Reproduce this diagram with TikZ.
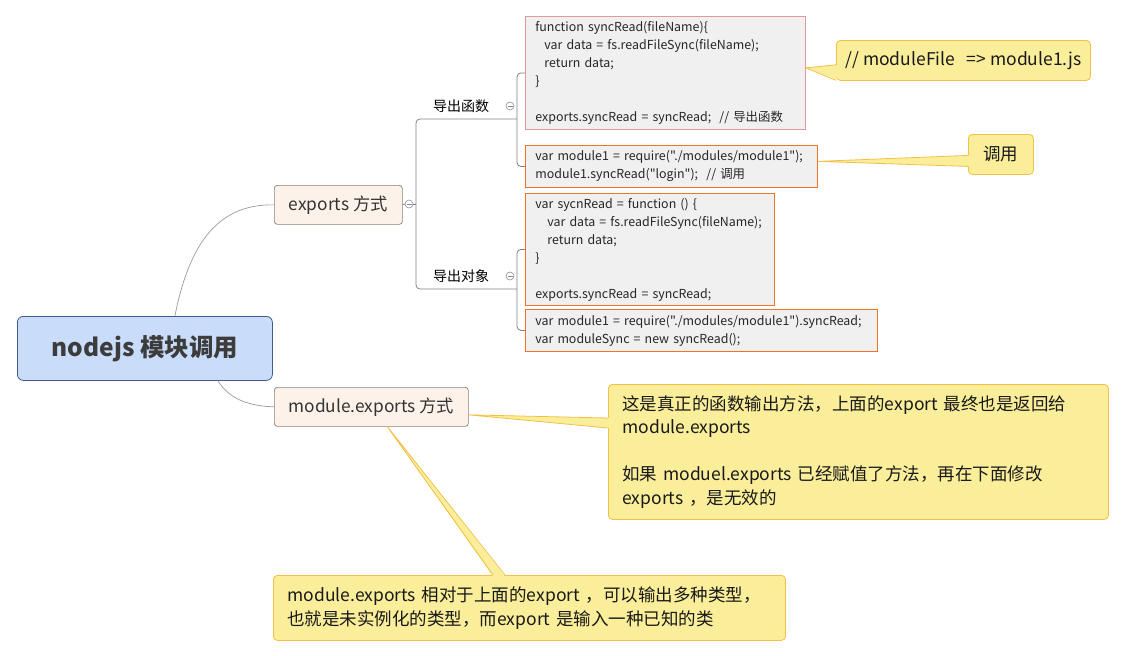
\documentclass[tikz,border=0pt]{standalone}
\usepackage{fontspec}
\setmainfont{Noto Sans CJK SC}[Ligatures=TeXOff]
\usepackage{xcolor}
\usetikzlibrary{positioning}
\definecolor{rootfill}{HTML}{C9DCFA}
\definecolor{rootdraw}{HTML}{3F5D8A}
\definecolor{roottext}{HTML}{3C3C3C}
\definecolor{subfill}{HTML}{FDF2E9}
\definecolor{subdraw}{HTML}{8B7F78}
\definecolor{codefill}{HTML}{F0F0F0}
\definecolor{codered}{HTML}{E09A9A}
\definecolor{codeorange}{HTML}{F07328}
\definecolor{notefill}{HTML}{FAEE9A}
\definecolor{notedraw}{HTML}{F2C046}
\definecolor{linkgray}{HTML}{9A9A9A}
\definecolor{minusdraw}{HTML}{8D8D9B}
\definecolor{minusline}{HTML}{7B8CB5}
\tikzset{
    rootnode/.style={rectangle, draw=rootdraw, fill=rootfill, line width=0.8pt, rounded corners=6pt, minimum width=255pt, minimum height=64pt, font=\fontsize{24.5}{28}\selectfont\bfseries, text=roottext},
    subnode/.style={rectangle, draw=subdraw, fill=subfill, line width=0.7pt, rounded corners=3pt, minimum height=39pt, font=\fontsize{17.3}{20}\selectfont, text=black!80, anchor=north west},
    label/.style={font=\fontsize{14}{17}\selectfont, text=black},
    codebox/.style={rectangle, draw=codeorange, fill=codefill, line width=0.8pt, inner xsep=10pt, align=left, anchor=north west, font=\fontsize{12.4}{18}\selectfont, text=black!85},
    note/.style={rectangle, draw=notedraw, fill=notefill, line width=0.8pt, rounded corners=4pt, anchor=north west, font=\fontsize{17.5}{23.5}\selectfont, text=black!90},
    minus/.style={circle, draw=minusdraw, fill=white, line width=0.6pt, minimum size=8pt, inner sep=0pt,
        path picture={\draw[minusline, line width=0.6pt] ([xshift=-2.5pt]path picture bounding box.center) -- ([xshift=2.5pt]path picture bounding box.center);}},
    link/.style={draw=linkgray, line width=0.7pt},
    tree/.style={draw=black!50, line width=0.8pt, rounded corners=4pt},
    wedge/.style={draw=notedraw, line width=0.8pt},
}

\begin{document}
\begin{tikzpicture}[x=1pt, y=-1pt]
    \useasboundingbox (0,0) rectangle (1125,656);

    % main topic and its two branches
    \node[rootnode, anchor=north west] (root) at (17,316) {nodejs 模块调用};
    \node[subnode, minimum width=128pt] (exp) at (274,185) {exports 方式};
    \node[subnode, minimum width=194pt] (mod) at (274,387) {module.exports 方式};

    \draw[link] ([xshift=30pt]root.north) .. controls (190,240) and (220,204) .. (exp.west);
    \draw[link] ([xshift=73pt]root.south) .. controls (230,400) and (250,406) .. (mod.west);

    % exports subtree
    \node[minus] (c0) at (409,204) {};
    \node[label] (fn) at (461,106) {导出函数};
    \node[label] (obj) at (461,276) {导出对象};
    \node[minus] (c1) at (510,106) {};
    \node[minus] (c2) at (510,276) {};
    \coordinate (fnR) at (517,119);
    \coordinate (objR) at (517,289);

    \node[codebox, draw=codered, minimum width=280pt, minimum height=113pt, text width=260pt] (box1) at (525,16)
        {function syncRead(fileName)\{\\
         \hspace*{9pt}var data = fs.readFileSync(fileName);\\
         \hspace*{9pt}return data;\\
         \}\\[18pt]
         exports.syncRead = syncRead;\ \ // 导出函数};
    \node[codebox, minimum width=292pt, minimum height=42pt, text width=272pt] (box2) at (525,145)
        {var module1 = require("./modules/module1");\\
         module1.syncRead("login");\ \ // 调用};
    \node[codebox, minimum width=249pt, minimum height=112pt, text width=229pt] (box3) at (525,193)
        {var sycnRead = function () \{\\
         \hspace*{12pt}var data = fs.readFileSync(fileName);\\
         \hspace*{12pt}return data;\\
         \}\\[18pt]
         exports.syncRead = syncRead;};
    \node[codebox, minimum width=352pt, minimum height=42pt, text width=332pt] (box4) at (525,309)
        {var module1 = require("./modules/module1").syncRead;\\
         var moduleSync = new syncRead();};

    \draw[tree] (exp.east) -- (c0.west);
    \draw[tree] (c0.east) -- (416,204);
    \draw[tree] (fnR) -- (416,119) -- (416,289) -- (objR);
    \draw[tree] (box1.west) -| (fnR) |- (box2.west);
    \draw[tree] (box3.west) -| (objR) |- (box4.west);

    % notes
    \node[note, minimum width=254pt, minimum height=40pt] (n1) at (836,40) {// moduleFile\ \ \ => module1.js};
    \fill[notefill] ([yshift=5pt]box1.east) -- ([xshift=1.5pt, yshift=16pt]n1.south west) -- ([xshift=1.5pt, yshift=1pt]n1.south west) -- cycle;
    \draw[wedge] ([yshift=16pt]n1.south west) -- ([yshift=5pt]box1.east) -- ([yshift=0.5pt]n1.south west);

    \node[note, minimum width=65pt, minimum height=40pt] (n2) at (968,134) {调用};
    \fill[notefill] ([yshift=5pt]box2.east) -- ([xshift=1.5pt, yshift=-1pt]n2.west) -- ([xshift=1.5pt, yshift=-12pt]n2.west) -- cycle;
    \draw[wedge] ([yshift=-1pt]n2.west) -- ([yshift=5pt]box2.east) -- ([yshift=-12pt]n2.west);

    \node[note, minimum width=500pt, minimum height=135pt, text width=472pt, inner xsep=14pt, align=left] (n3) at (608,384)
        {这是真正的函数输出方法，上面的export 最终也是返回给\\
         module.exports\\[23.5pt]
         如果 moduel.exports 已经赋值了方法，再在下面修改\\
         exports ，是无效的};
    \fill[notefill] ([yshift=-8pt]mod.east) -- ([xshift=1.5pt, yshift=-34pt]n3.north west) -- ([xshift=1.5pt, yshift=-44pt]n3.north west) -- cycle;
    \draw[wedge] ([yshift=-34pt]n3.north west) -- ([yshift=-8pt]mod.east) -- ([yshift=-44pt]n3.north west);

    \node[note, minimum width=512pt, minimum height=65pt, text width=484pt, inner xsep=14pt, align=left] (n4) at (273,575)
        {module.exports 相对于上面的export ，可以输出多种类型，\\
         也就是未实例化的类型，而export 是输入一种已知的类};
    \fill[notefill] ([xshift=16pt]mod.south) -- ([xshift=220pt, yshift=-1.5pt]n4.north west) -- ([xshift=232pt, yshift=-1.5pt]n4.north west) -- cycle;
    \draw[wedge] ([xshift=220pt]n4.north west) -- ([xshift=16pt]mod.south) -- ([xshift=232pt]n4.north west);
\end{tikzpicture}
\end{document}
